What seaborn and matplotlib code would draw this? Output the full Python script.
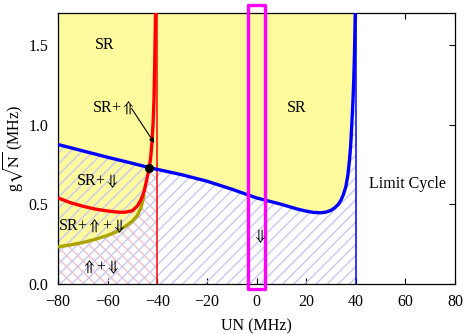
import numpy as np
import pandas as pd
import matplotlib
matplotlib.use("Agg")
import matplotlib.pyplot as plt
import seaborn as sns
from matplotlib.patches import Rectangle

# ---------------- data ----------------
cross_x, cross_y = -43.2, 0.73

blue_x = [-80, -70, -60, -50, cross_x, -30, -20, -10, 0, 10, 16, 20, 23, 26, 28, 30, 31.5,
          33, 34, 35, 36, 36.8, 37.5, 38, 38.4, 38.8, 39.2, 39.5, 39.8]
blue_y = [0.875, 0.835, 0.795, 0.757, cross_y, 0.685, 0.645, 0.595, 0.54, 0.50, 0.472, 0.457,
          0.449, 0.447, 0.451, 0.462, 0.478, 0.50, 0.525, 0.56, 0.61, 0.68, 0.78, 0.88, 1.0,
          1.12, 1.28, 1.45, 1.7]

red_x = [-80, -75, -70, -65, -60, -56, -53, -50, -48, -46.5, -45.3, -44.3, cross_x,
         -42.6, -42.1, -41.7, -41.3, -41.0, -40.7]
red_y = [0.54, 0.51, 0.488, 0.47, 0.458, 0.451, 0.45, 0.46, 0.49, 0.53, 0.58, 0.65, cross_y,
         0.80, 0.90, 1.0, 1.16, 1.4, 1.7]

olive_x = [-80, -75, -70, -65, -60, -56, -53, -50, -48, -46.5, -45.3]
olive_y = [0.233, 0.245, 0.26, 0.28, 0.305, 0.33, 0.36, 0.395, 0.43, 0.48, 0.56]

red_asym_x = -40
blue_asym_x = 40
xlim = (-80, 80)
ylim = (0, 1.7)
band_x = (-3.6, 3.6)
band_y = (-0.03, 1.75)

x_ticks = [-80, -60, -40, -20, 0, 20, 40, 60, 80]
y_ticks = [0.0, 0.5, 1.0, 1.5]

UP = r"$\Uparrow$"
DN = r"$\Downarrow$"
labels = [("SR", -61, 1.50), ("SR", 16, 1.107), ("SR+" + UP, -57.7, 1.107),
          ("SR+" + DN, -64, 0.648), ("SR+" + UP + "+" + DN, -66.5, 0.36),
          (UP + "+" + DN, -63, 0.107), (DN, 1.2, 0.30), ("Limit Cycle", 61, 0.63)]
arrow_start = (-50.3, 1.10)
arrow_tip = (-41.2, 0.885)

# ---------------- figure ----------------
sns.set_theme(style="ticks")
plt.rcParams["font.family"] = ["Liberation Serif", "DejaVu Serif"]
plt.rcParams["mathtext.fontset"] = "stix"
plt.rcParams["hatch.linewidth"] = 1.0

FS = 11.5

fig = plt.figure(figsize=(4.65, 3.34), dpi=100)
ax = fig.add_axes([58 / 465, 1 - 284 / 334, (455 - 58) / 465, (284 - 13) / 334])

bx = np.array(blue_x); by = np.array(blue_y)
rx = np.array(red_x); ry = np.array(red_y)
ox = np.array(olive_x); oy = np.array(olive_y)

yellow = "#fcfa9c"
# yellow above blue curve
ax.fill_between(bx, by, ylim[1], color=yellow, lw=0, zorder=1)
# yellow below blue, between olive and red (left part)
m_red = (rx > ox[-1]) & (rx <= cross_x)
m_blue = bx <= cross_x
poly_x = np.concatenate([ox, rx[m_red], bx[m_blue][::-1]])
poly_y = np.concatenate([oy, ry[m_red], by[m_blue][::-1]])
ax.fill(poly_x, poly_y, color=yellow, lw=0, zorder=1)

# pink hatch (x < -40, below olive / red / blue)
m_blue2 = (bx >= cross_x) & (bx <= red_asym_x)
b_at = np.interp(red_asym_x, bx, by)
px = np.concatenate([[xlim[0], red_asym_x, red_asym_x], bx[m_blue2][::-1],
                     rx[m_red][::-1], ox[::-1]])
py = np.concatenate([[0, 0, b_at], by[m_blue2][::-1], ry[m_red][::-1], oy[::-1]])
ax.fill(px, py, facecolor="none", edgecolor="#f6c0c8", hatch="\\\\\\", lw=0, zorder=2)

# blue hatch (below blue curve, x < 40)
hx = np.concatenate([[xlim[0], blue_asym_x, blue_asym_x], bx[::-1]])
hy = np.concatenate([[0, 0, ylim[1]], by[::-1]])
ax.fill(hx, hy, facecolor="none", edgecolor="#c8c8f2", hatch="///", lw=0, zorder=2)

# thin asymptote lines
ax.axvline(red_asym_x, color="#ff0000", lw=1.1, zorder=3)
ax.axvline(blue_asym_x, color="#0000ff", lw=1.1, zorder=3)

df = pd.concat([
    pd.DataFrame({"x": ox, "y": oy, "c": "olive"}),
    pd.DataFrame({"x": rx, "y": ry, "c": "red"}),
    pd.DataFrame({"x": bx, "y": by, "c": "blue"}),
])
sns.lineplot(data=df, x="x", y="y", hue="c", sort=False, estimator=None,
             palette={"olive": "#aca400", "red": "#ff0000", "blue": "#0000ff"},
             lw=2.4, legend=False, ax=ax, zorder=4)
for line in ax.lines[-3:]:
    line.set_solid_capstyle("butt")
    line.set_solid_joinstyle("round")

ax.scatter([cross_x], [cross_y], s=30, color="black", zorder=6)

ax.add_patch(Rectangle((band_x[0], band_y[0]), band_x[1] - band_x[0], band_y[1] - band_y[0],
                       fill=False, edgecolor="#ff00ff", lw=2.4, clip_on=False, zorder=7,
                       joinstyle="round"))

for t, x, y in labels:
    ax.text(x, y, t, ha="center", va="center", fontsize=FS, color="black", zorder=8)
ax.annotate("", xy=arrow_tip, xytext=arrow_start,
            arrowprops=dict(arrowstyle="-|>", lw=0.8, color="black",
                            mutation_scale=7, shrinkA=0, shrinkB=0), zorder=8)

ax.set_xlim(*xlim)
ax.set_ylim(*ylim)
ax.set_xticks(x_ticks)
ax.set_yticks(y_ticks)
ax.set_yticklabels([f"{v:.1f}" for v in y_ticks])
ax.tick_params(direction="in", top=True, right=True, length=4, width=0.8,
               labelsize=FS, colors="black", pad=7)
for s in ax.spines.values():
    s.set_color("black")
    s.set_linewidth(0.9)
ax.set_xlabel("UN (MHz)", fontsize=FS, color="black", labelpad=6)
ax.set_ylabel(r"g$\sqrt{\mathrm{N}}$ (MHz)", fontsize=FS, color="black", labelpad=1.5)

fig.savefig("out.png", dpi=100)
